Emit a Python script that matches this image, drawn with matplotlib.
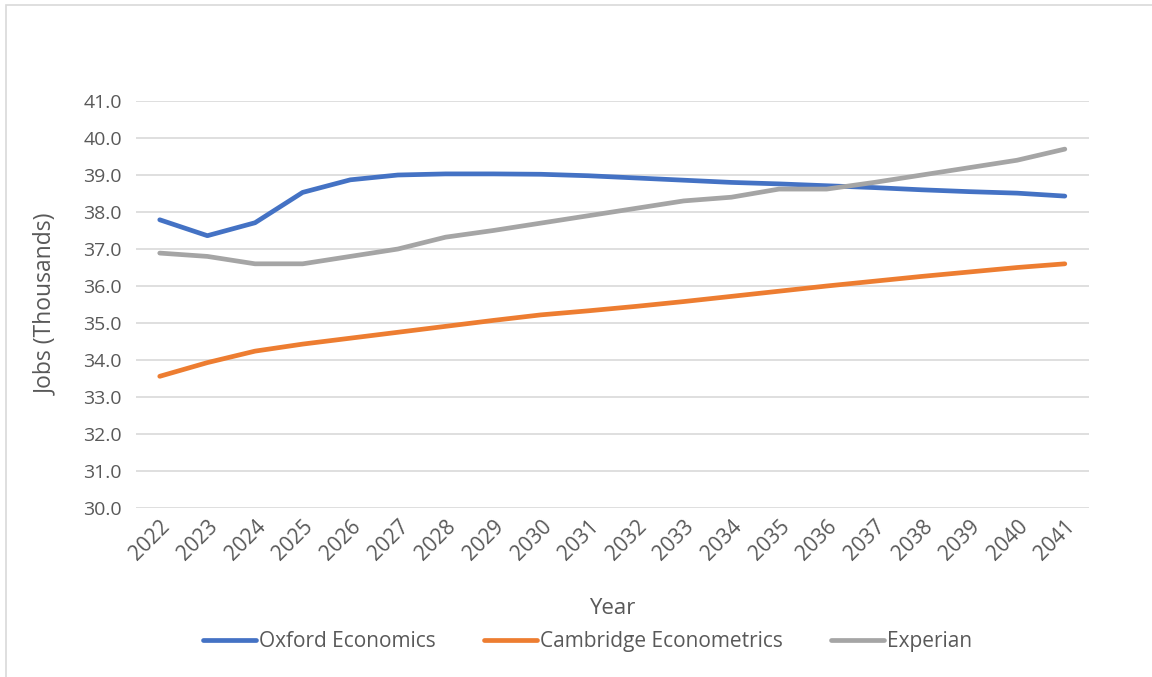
import matplotlib.pyplot as plt
from matplotlib.patches import Rectangle
import numpy as np

plt.rcParams['font.family'] = ['Open Sans', 'DejaVu Sans']

years = [str(y) for y in range(2022, 2042)]
oxford = [37.79, 37.36, 37.71, 38.53, 38.87, 39.00, 39.03, 39.03, 39.02, 38.98,
          38.92, 38.86, 38.80, 38.76, 38.71, 38.66, 38.60, 38.55, 38.51, 38.43]
cambridge = [33.56, 33.93, 34.24, 34.43, 34.59, 34.75, 34.91, 35.07, 35.22, 35.33,
             35.45, 35.58, 35.72, 35.86, 36.00, 36.13, 36.26, 36.38, 36.50, 36.60]
experian = [36.89, 36.80, 36.60, 36.60, 36.80, 37.00, 37.32, 37.50, 37.70, 37.90,
            38.10, 38.30, 38.40, 38.62, 38.62, 38.80, 39.00, 39.20, 39.40, 39.70]
series_names = ['Oxford Economics', 'Cambridge Econometrics', 'Experian']
colors = ['#4472C4', '#ED7D31', '#A5A5A5']
yticks = np.arange(30, 41.5, 1.0)

fig = plt.figure(figsize=(11.52, 6.77), dpi=100)
ax = fig.add_axes([0.118, 0.2496, 0.827, 0.6012])

# chart border
fig.patches.append(Rectangle((0.005, -0.1), 1.1, 1.092, transform=fig.transFigure,
                             fill=False, edgecolor='#D9D9D9', linewidth=1.2))

x = np.arange(len(years))
for vals, name, c in zip([oxford, cambridge, experian], series_names, colors):
    ax.plot(x, vals, color=c, linewidth=3.4, label=name,
            solid_capstyle='round', solid_joinstyle='round')

ax.set_xlim(-0.5, len(years) - 0.5)
ax.set_ylim(30, 41)
ax.set_yticks(yticks)
ax.set_yticklabels([f'{v:.1f}' for v in yticks])
ax.set_xticks(x)
ax.set_xticklabels(years, rotation=45, ha='right', rotation_mode='anchor')
ax.grid(axis='y', color='#D9D9D9', linewidth=1.2)
ax.set_axisbelow(True)
for s in ['top', 'right', 'left', 'bottom']:
    ax.spines[s].set_visible(False)
ax.tick_params(axis='both', length=0, colors='#595959')
ax.tick_params(axis='y', pad=10, labelsize=14)
ax.tick_params(axis='x', pad=6, labelsize=15)

ax.set_xlabel('Year', fontsize=16, color='#595959', labelpad=24)
ax.set_ylabel('Jobs (Thousands)', fontsize=16.5, color='#595959', labelpad=18)

leg = ax.legend(loc='center', bbox_to_anchor=(0.51, 0.052), bbox_transform=fig.transFigure,
                ncol=3, frameon=False, fontsize=15, handlelength=2.55,
                handletextpad=0.15, columnspacing=2.3)
for t in leg.get_texts():
    t.set_color('#595959')

fig.savefig('out.png', dpi=100)
